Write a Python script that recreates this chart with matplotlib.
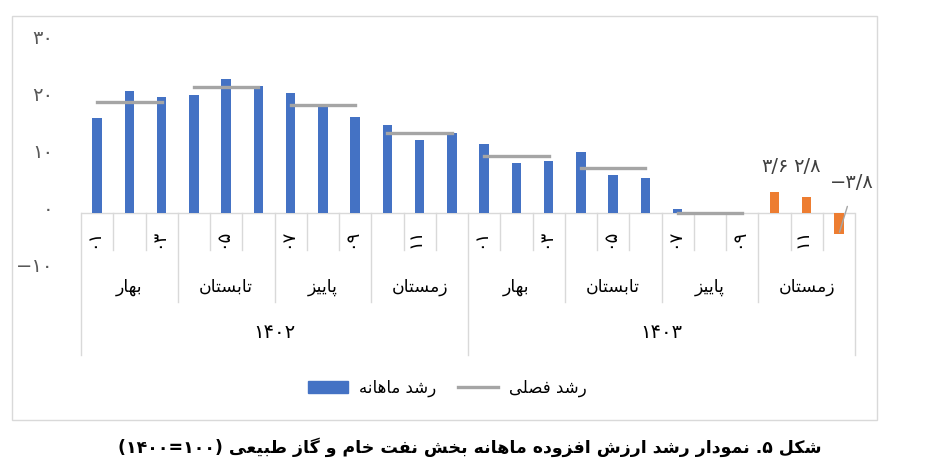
import re
import matplotlib
matplotlib.use('Agg')
import matplotlib.pyplot as plt
import matplotlib.transforms as mtransforms
from matplotlib.patches import Rectangle, Patch
from matplotlib.lines import Line2D
import numpy as np

plt.rcParams['font.family'] = ['DejaVu Sans']

# data
years = ['1402', '1403']
seasons = ['بهار', 'تابستان', 'پاییز', 'زمستان']
months = list(range(1, 13))
monthly = [16.6, 21.4, 20.2, 20.6, 23.4, 22.2, 21.0, 18.8, 16.7, 15.3, 12.8, 13.9,
           12.0, 8.6, 9.1, 10.6, 6.6, 6.0, 0.6, -0.3, -0.1]
monthly_est = [3.6, 2.8, -3.8]
seasonal = [19.4, 22.1, 18.9, 14.0, 9.9, 7.8, 0.0]
yticks = [-10, 0, 10, 20, 30]

legend_bar = 'رشد ماهانه'
legend_line = 'رشد فصلی'
title = 'شکل ۵. نمودار رشد ارزش افزوده ماهانه بخش نفت خام و گاز طبیعی (۱۰۰=۱۴۰۰)'

BLUE = '#4472C4'
ORANGE = '#ED7D31'
GRAY = '#A5A5A5'
LIGHT = '#D9D9D9'

# persian letters -> (isolated, final, initial, medial)
FORMS = {
    'ا': ('\uFE8D', '\uFE8E'),
    'ب': ('\uFE8F', '\uFE90', '\uFE91', '\uFE92'),
    'پ': ('\uFB56', '\uFB57', '\uFB58', '\uFB59'),
    'ت': ('\uFE95', '\uFE96', '\uFE97', '\uFE98'),
    'خ': ('\uFEA5', '\uFEA6', '\uFEA7', '\uFEA8'),
    'د': ('\uFEA9', '\uFEAA'),
    'ر': ('\uFEAD', '\uFEAE'),
    'ز': ('\uFEAF', '\uFEB0'),
    'ژ': ('\uFB8A', '\uFB8B'),
    'س': ('\uFEB1', '\uFEB2', '\uFEB3', '\uFEB4'),
    'ش': ('\uFEB5', '\uFEB6', '\uFEB7', '\uFEB8'),
    'ص': ('\uFEB9', '\uFEBA', '\uFEBB', '\uFEBC'),
    'ط': ('\uFEC1', '\uFEC2', '\uFEC3', '\uFEC4'),
    'ع': ('\uFEC9', '\uFECA', '\uFECB', '\uFECC'),
    'ف': ('\uFED1', '\uFED2', '\uFED3', '\uFED4'),
    'ک': ('\uFB8E', '\uFB8F', '\uFB90', '\uFB91'),
    'گ': ('\uFB92', '\uFB93', '\uFB94', '\uFB95'),
    'ل': ('\uFEDD', '\uFEDE', '\uFEDF', '\uFEE0'),
    'م': ('\uFEE1', '\uFEE2', '\uFEE3', '\uFEE4'),
    'ن': ('\uFEE5', '\uFEE6', '\uFEE7', '\uFEE8'),
    'ه': ('\uFEE9', '\uFEEA', '\uFEEB', '\uFEEC'),
    'و': ('\uFEED', '\uFEEE'),
    'ی': ('\uFBFC', '\uFBFD', '\uFBFE', '\uFBFF'),
}


def shape(s):
    out = []
    for i, ch in enumerate(s):
        if ch not in FORMS:
            out.append(ch)
            continue
        f = FORMS[ch]
        prev = s[i - 1] if i > 0 else ''
        nxt = s[i + 1] if i + 1 < len(s) else ''
        jp = prev in FORMS and len(FORMS[prev]) == 4
        jn = len(f) == 4 and nxt in FORMS
        if jp and jn:
            out.append(f[3])
        elif jp:
            out.append(f[1])
        elif jn:
            out.append(f[2])
        else:
            out.append(f[0])
    return ''.join(out)


def visual(s):
    # shape, then lay out right to left, keeping numbers left to right
    r = shape(s)[::-1]
    r = re.sub(r'[۰-۹0-9]+(?:[/.][۰-۹0-9]+)*', lambda m: m.group(0)[::-1], r)
    return r.translate(str.maketrans('()', ')('))


def fa(s):
    return str(s).translate(str.maketrans('0123456789.-', '۰۱۲۳۴۵۶۷۸۹/−'))


W, H = 942, 476
fig = plt.figure(figsize=(W / 100, H / 100), dpi=100)


def fx(px):
    return px / W


def fy(px):
    return 1 - px / H


top_px, bot_px = 41.5, 269.5
ax = fig.add_axes([fx(81), fy(bot_px), fx(855) - fx(81), (bot_px - top_px) / H])


def ay(px):
    return (bot_px - px) / (bot_px - top_px)


n = len(monthly) + len(monthly_est)
x = np.arange(n)
ax.bar(x[:len(monthly)], monthly, width=0.29, color=BLUE, zorder=3)
ax.bar(x[len(monthly):], monthly_est, width=0.29, color=ORANGE, zorder=3)
for k, v in enumerate(seasonal):
    ax.plot([3 * k, 3 * k + 2], [v, v], color=GRAY, lw=2.4, zorder=4)

ax.set_xlim(-0.5, n - 0.5)
ax.set_ylim(-10, 30)
for sp in ax.spines.values():
    sp.set_visible(False)
ax.set_xticks([])
ax.set_yticks(yticks)
ax.set_yticklabels([fa(t) for t in yticks])
ax.tick_params(axis='y', length=0, pad=20, labelsize=14, labelcolor='#595959')
lift = mtransforms.ScaledTranslation(0, 5 / 100, fig.dpi_scale_trans)
for lab in ax.get_yticklabels():
    lab.set_transform(lab.get_transform() + lift)
ax.axhline(0, color=LIGHT, lw=1, zorder=2)

# multi level category axis
trans = mtransforms.blended_transform_factory(ax.transData, ax.transAxes)
y0 = ay(212.5)
for b in range(n + 1):
    if b % 12 == 0:
        yb = ay(355)
    elif b % 3 == 0:
        yb = ay(302)
    else:
        yb = ay(250)
    ax.plot([b - 0.5, b - 0.5], [y0, yb], color=LIGHT, lw=1, transform=trans, clip_on=False)

for i in range(0, n, 2):
    ax.text(i - 0.12, ay(238), fa('%02d' % months[i % 12]), rotation=90, ha='center', va='center',
            fontsize=13, transform=trans)
for k in range(n // 3):
    ax.text(3 * k + 1, ay(287), visual(seasons[k % 4]), ha='center', va='center',
            fontsize=12.5, transform=trans)
for k, yr in enumerate(years):
    ax.text(12 * k + 5.5, ay(333), fa(yr), ha='center', va='center', fontsize=14, transform=trans)

# data labels on the orange bars
offs = [(1, 25), (0, 30), (13, 52)]
for i, v in enumerate(monthly_est):
    xi = len(monthly) + i
    if v < 0:
        ax.annotate(fa(v), xy=(xi, v), xytext=offs[i], textcoords='offset pixels',
                    ha='center', va='center', fontsize=14, color='#404040',
                    arrowprops=dict(arrowstyle='-', color=GRAY, lw=1, relpos=(0.5, 0),
                                    shrinkA=9, shrinkB=1.5))
    else:
        ax.annotate(fa(v), xy=(xi, v), xytext=offs[i], textcoords='offset pixels',
                    ha='center', va='center', fontsize=14, color='#404040')

handles = [Patch(color=BLUE), Line2D([], [], color=GRAY, lw=2.4)]
fig.legend(handles, [visual(legend_bar), visual(legend_line)], loc='center',
           bbox_to_anchor=(fx(447), fy(388)), ncol=2, frameon=False, fontsize=12,
           handlelength=2.4, handleheight=0.8, handletextpad=0.66, columnspacing=1.3)

fig.add_artist(Rectangle((fx(11.5), fy(420)), fx(877) - fx(11.5), fy(16) - fy(420),
                         transform=fig.transFigure, fill=False, edgecolor=LIGHT, lw=1))

fig.text(fx(470), fy(447), visual(title), ha='center', va='center', fontsize=12.5,
         fontweight='bold')

fig.savefig('out.png', dpi=100)
